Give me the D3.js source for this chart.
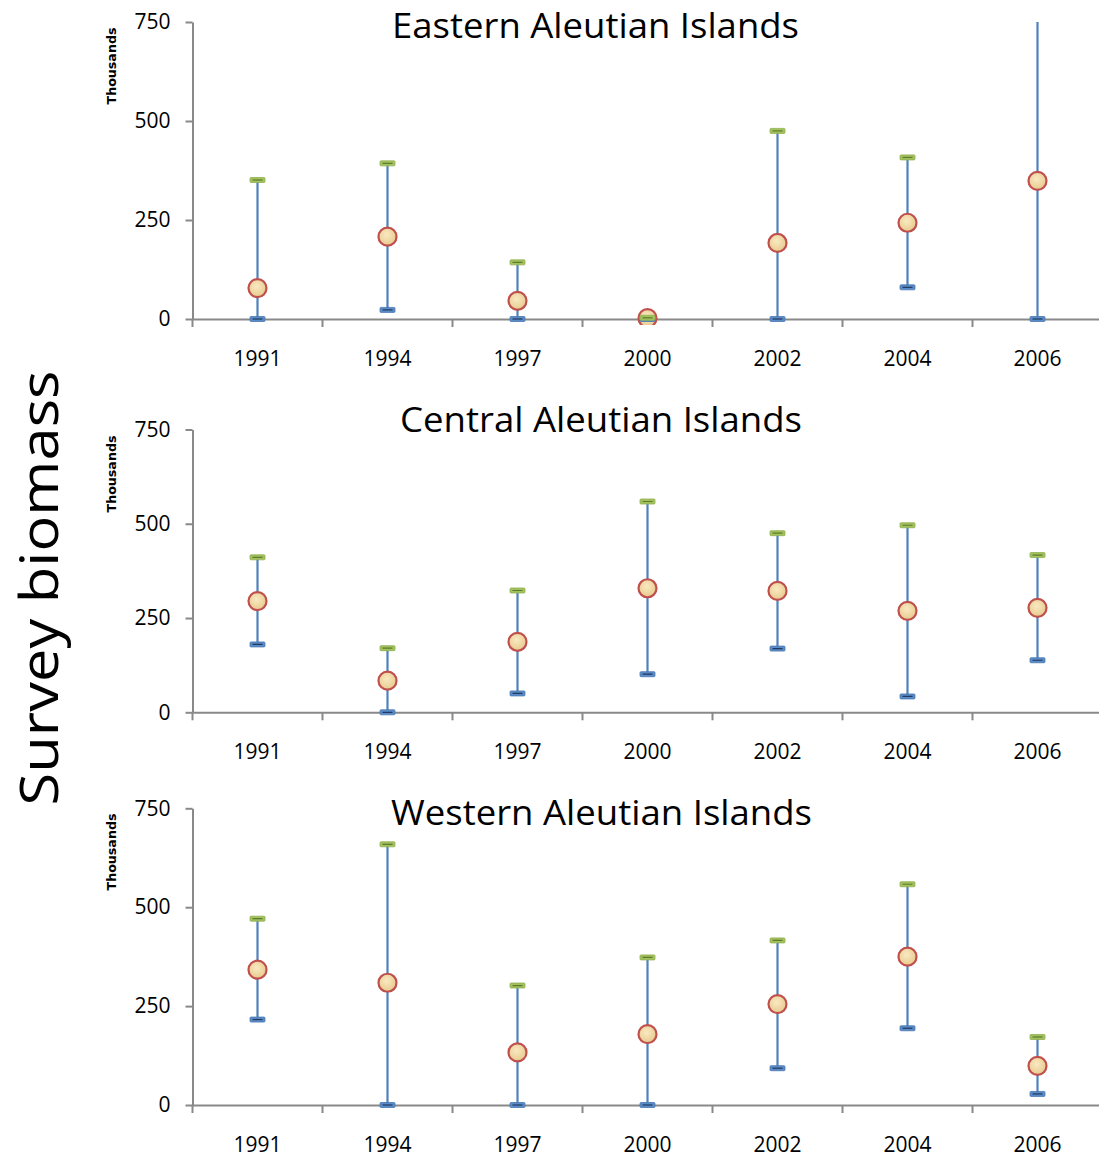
<!DOCTYPE html>
<html>
<head>
<meta charset="utf-8">
<script src="https://cdn.jsdelivr.net/npm/d3@7"></script>
<style>
  html, body { margin: 0; padding: 0; background: #fff; }
  svg { display: block; }
</style>
</head>
<body>
<script>
// ---- data ----
const years = ["1991", "1994", "1997", "2000", "2002", "2004", "2006"];
const yTicks = [0, 250, 500, 750];

const panelTitles = ["Eastern Aleutian Islands", "Central Aleutian Islands", "Western Aleutian Islands"];

const eastMean  = [78, 208, 46, 2, 192, 243, 349];
const eastLower = [0, 23, 0, 0, 0, 80, 0];
const eastUpper = [351, 393, 143, 3, 475, 408, 1000];

const centralMean  = [295, 84, 187, 329, 322, 269, 277];
const centralLower = [180, 0, 50, 101, 169, 42, 138];
const centralUpper = [411, 170, 323, 559, 475, 496, 417];

const westMean  = [342, 309, 133, 179, 255, 375, 99];
const westLower = [216, 0, 0, 0, 93, 194, 28];
const westUpper = [471, 659, 302, 373, 416, 558, 172];

// ---- layout ----
const W = 1099, H = 1159;
const panels = [
  { title: panelTitles[0], mean: eastMean, lower: eastLower, upper: eastUpper,
    y0: 319, y1: 22, titleX: 595.5, titleY: 38, titleLen: 407, thouY: 66 },
  { title: panelTitles[1], mean: centralMean, lower: centralLower, upper: centralUpper,
    y0: 712.3, y1: 429.5, titleX: 601, titleY: 432, titleLen: 402, thouY: 474 },
  { title: panelTitles[2], mean: westMean, lower: westLower, upper: westUpper,
    y0: 1105, y1: 808.3, titleX: 601.5, titleY: 825, titleLen: 421, thouY: 852 }
];

const FONT = "'Open Sans', 'DejaVu Sans', sans-serif";
const axisColor = "#898989";

const svg = d3.select("body").append("svg")
  .attr("width", W).attr("height", H)
  .style("font-family", FONT);

const defs = svg.append("defs");
const grad = defs.append("radialGradient").attr("id", "dotFill")
  .attr("cx", "45%").attr("cy", "40%").attr("r", "65%");
grad.append("stop").attr("offset", "0%").attr("stop-color", "#F9E9C2");
grad.append("stop").attr("offset", "100%").attr("stop-color", "#E6C889");

const x = d3.scaleBand().domain(years).range([192.5, 1102.5]).padding(0);

// Global y-axis label
svg.append("text")
  .attr("transform", "translate(57.5,588) rotate(-90)")
  .attr("text-anchor", "middle")
  .attr("font-size", 53)
  .attr("textLength", 435)
  .attr("lengthAdjust", "spacingAndGlyphs")
  .attr("fill", "#000")
  .style("font-family", FONT)
  .style("font-weight", 400)
  .text("Survey biomass");

panels.forEach((p, pi) => {
  const y = d3.scaleLinear().domain([0, 750]).range([p.y0, p.y1]);
  const g = svg.append("g");

  const clipId = "clip" + pi;
  defs.append("clipPath").attr("id", clipId)
    .append("rect")
    .attr("x", 192).attr("y", y(750))
    .attr("width", 910).attr("height", y(0) - y(750) + 6);

  // y axis
  const yAxis = g.append("g")
    .attr("transform", `translate(${x.range()[0]},0)`)
    .call(d3.axisLeft(y).tickValues(yTicks).tickSize(7).tickSizeOuter(0).tickPadding(15));
  yAxis.select(".domain").attr("stroke", axisColor).attr("stroke-width", 2);
  yAxis.selectAll(".tick line").attr("stroke", axisColor).attr("stroke-width", 2);
  yAxis.selectAll(".tick text")
    .attr("font-size", 21).attr("fill", "#000").style("font-family", FONT);

  // x axis
  const xAxis = g.append("g")
    .attr("transform", `translate(0,${y(0)})`)
    .call(d3.axisBottom(x).tickSize(0).tickSizeOuter(0).tickPadding(32));
  xAxis.select(".domain").attr("stroke", axisColor).attr("stroke-width", 2);
  xAxis.selectAll(".tick text")
    .attr("font-size", 21).attr("fill", "#000").style("font-family", FONT);

  // category boundary ticks
  const bounds = years.map(d => x(d)).concat([x.range()[1]]);
  g.append("g").selectAll("line").data(bounds).join("line")
    .attr("x1", d => d).attr("x2", d => d)
    .attr("y1", y(0)).attr("y2", y(0) + 8)
    .attr("stroke", axisColor).attr("stroke-width", 2);

  // "Thousands"
  g.append("text")
    .attr("transform", `translate(116,${p.thouY}) rotate(-90)`)
    .attr("text-anchor", "middle")
    .attr("font-size", 12)
    .attr("font-weight", "bold")
    .attr("fill", "#000")
    .style("font-family", "'DejaVu Sans', sans-serif")
    .attr("textLength", 77)
    .attr("lengthAdjust", "spacingAndGlyphs")
    .text("Thousands");

  // Title
  g.append("text")
    .attr("x", p.titleX).attr("y", p.titleY)
    .attr("text-anchor", "middle")
    .attr("font-size", 34)
    .attr("fill", "#000")
    .attr("textLength", p.titleLen)
    .attr("lengthAdjust", "spacingAndGlyphs")
    .style("font-family", FONT)
    .text(p.title);

  const cx = d => x(d) + x.bandwidth() / 2;
  const rows = years.map((yr, i) => ({ yr, mean: p.mean[i], lo: p.lower[i], hi: p.upper[i] }));

  const marks = g.append("g").attr("clip-path", `url(#${clipId})`);

  // high-low lines
  marks.selectAll("line.err").data(rows).join("line")
    .attr("class", "err")
    .attr("x1", d => cx(d.yr)).attr("x2", d => cx(d.yr))
    .attr("y1", d => y(d.lo)).attr("y2", d => y(d.hi))
    .attr("stroke", "#4F81BD").attr("stroke-width", 2.2);

  // means
  marks.selectAll("circle.mean").data(rows).join("circle")
    .attr("class", "mean")
    .attr("cx", d => cx(d.yr)).attr("cy", d => y(d.mean))
    .attr("r", 9)
    .attr("fill", "url(#dotFill)")
    .attr("stroke", "#C0504D").attr("stroke-width", 2.2);

  // lower caps (blue)
  const loCap = marks.selectAll("g.lo").data(rows).join("g").attr("class", "lo")
    .attr("transform", d => `translate(${cx(d.yr)},${y(d.lo)})`);
  loCap.append("rect").attr("x", -7.5).attr("y", -2.5).attr("width", 15).attr("height", 5)
    .attr("rx", 1).attr("fill", "#5B8BC6").attr("stroke", "#4A78B3").attr("stroke-width", 0.8);
  loCap.append("line").attr("x1", -5).attr("x2", 5).attr("y1", 0).attr("y2", 0)
    .attr("stroke", "#1F3B63").attr("stroke-width", 1.2);

  // upper caps (green)
  const hiCap = marks.selectAll("g.hi").data(rows.filter(d => d.hi <= 750)).join("g").attr("class", "hi")
    .attr("transform", d => `translate(${cx(d.yr)},${y(d.hi)})`);
  hiCap.append("rect").attr("x", -7.5).attr("y", -2.5).attr("width", 15).attr("height", 5)
    .attr("rx", 1).attr("fill", "#A2C15F").attr("stroke", "#8FB04E").attr("stroke-width", 0.8);
  hiCap.append("line").attr("x1", -5).attr("x2", 5).attr("y1", 0).attr("y2", 0)
    .attr("stroke", "#5E7A2A").attr("stroke-width", 1.2);
});
</script>
</body>
</html>
